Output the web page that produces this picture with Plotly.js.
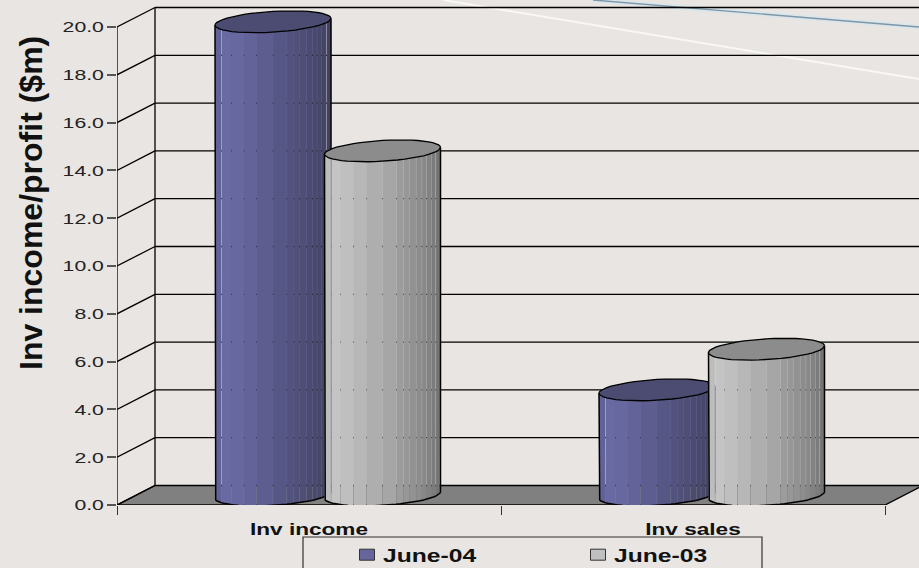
<!DOCTYPE html>
<html>
<head>
<meta charset="utf-8">
<script src="https://cdn.plot.ly/plotly-3.0.1.min.js"></script>
<style>
  html, body { margin: 0; padding: 0; background: #e8e5e2; overflow: hidden; }
  #chart { width: 919px; height: 568px; }
</style>
</head>
<body>
<div id="chart"></div>
<script>
// Chart data
const categories = ['Inv income', 'Inv sales'];
const june04 = [19.8, 4.4];
const june03 = [14.4, 6.1];
const seriesNames = ['June-04', 'June-03'];
const valueTicks = [0, 2, 4, 6, 8, 10, 12, 14, 16, 18, 20];
const yAxisTitle = 'Inv income/profit ($m)';

// Page and plot geometry, in pixels
const PAGE_W = 919, PAGE_H = 568;
const PLOT_L = 117, PLOT_B = 505;
const PX_PER_CATEGORY = 384, PX_PER_UNIT = 23.9;
const px2x = p => p / PX_PER_CATEGORY;
const px2y = p => p / PX_PER_UNIT;
const paperX = p => (p - PLOT_L) / (PAGE_W - PLOT_L);
const paperY = p => (PLOT_B - p) / PLOT_B;

// Depth of the 3-D box behind the front plane
const depthX = px2x(38), depthY = px2y(19.5);
const xMax = px2x(PAGE_W - PLOT_L);
const yMax = px2y(PLOT_B);

// Cylinder proportions, in axis units
const cylA = px2x(58);       // half width
const cylB = px2y(10.4);     // vertical half height of the end ellipses
const cylSkew = px2y(3.4);   // the right side of each ellipse sits higher
const centerShift = [px2x(-36), px2x(73.5)];  // series centre relative to the category centre
const baseLevel = px2y(10);
const SEAM = 0.0016;         // hairline gap between neighbouring facets

// Vertical facets on each cylinder body, from left to right
const facetStops = [0, .057, .14, .25, .36, .5, .62, .68, .73, .79, .84, .88, .92, .96, 1];
const shades = [
  { body: ['#62629a', '#6a6aa3', '#6868a0', '#636399', '#5d5d90', '#575785', '#52527e', '#505079',
           '#4e4e76', '#4b4b72', '#49496e', '#47476a', '#444466', '#414161'],
    cap: '#4c4c72', swatch: '#66669c' },
  { body: ['#bdbdbd', '#c4c4c4', '#bfbfbf', '#b7b7b7', '#aeaeae', '#a6a6a6', '#9c9c9c', '#979797',
           '#929292', '#8d8d8d', '#888888', '#828282', '#7c7c7c', '#747474'],
    cap: '#8c8c8c', swatch: '#c0c0c0' }
];

const BLACK = '#000000';
const polygon = (xs, ys, fill, lineWidth) => ({
  type: 'scatter', mode: 'lines', x: xs, y: ys, fill: 'toself', fillcolor: fill,
  line: { color: lineWidth ? BLACK : fill, width: lineWidth || 0 },
  hoverinfo: 'skip', showlegend: false, cliponaxis: false
});
const polyline = (xs, ys, width) => ({
  type: 'scatter', mode: 'lines', x: xs, y: ys,
  line: { color: BLACK, width: width },
  hoverinfo: 'skip', showlegend: false, cliponaxis: false
});

// Lower arc of an end ellipse between two horizontal fractions of the cylinder width
function lowerArc(cx, level, f0, f1, steps) {
  const xs = [], ys = [];
  for (let i = 0; i <= steps; i++) {
    const c = 2 * (f0 + (f1 - f0) * i / steps) - 1;
    xs.push(cx + cylA * c);
    ys.push(level + cylSkew * c - cylB * Math.sqrt(Math.max(0, 1 - c * c)));
  }
  return { xs, ys };
}

// Full end ellipse, as a closed outline
function ellipse(cx, level) {
  const xs = [], ys = [];
  const steps = 48;
  for (let i = 0; i <= steps; i++) {
    const t = 2 * Math.PI * i / steps;
    xs.push(cx + cylA * Math.cos(t));
    ys.push(level + cylSkew * Math.cos(t) + cylB * Math.sin(t));
  }
  return { xs, ys };
}

// One cylinder: shaded facets, top cap, then the silhouette
function cylinderTraces(cx, value, shade) {
  const top = baseLevel + value;
  const out = [];
  for (let i = 0; i < shade.body.length; i++) {
    const f0 = facetStops[i] + (i ? SEAM : 0);
    const f1 = facetStops[i + 1] - (i < shade.body.length - 1 ? SEAM : 0);
    const upper = lowerArc(cx, top, f0, f1, 6);
    const lower = lowerArc(cx, baseLevel, f0, f1, 6);
    out.push(polygon(upper.xs.concat(lower.xs.slice().reverse()),
                     upper.ys.concat(lower.ys.slice().reverse()), shade.body[i], 0));
  }
  const cap = ellipse(cx, top);
  out.push(polygon(cap.xs, cap.ys, shade.cap, 1.3));
  // Cosine-spaced fractions keep the rounded ends of the base arc smooth
  const bx = [], by = [];
  for (let i = 0; i <= 40; i++) {
    const c = -Math.cos(Math.PI * i / 40);
    bx.push(cx + cylA * c);
    by.push(baseLevel + cylSkew * c - cylB * Math.sqrt(Math.max(0, 1 - c * c)));
  }
  out.push(polyline(
    [cx - cylA].concat(bx, [cx + cylA]),
    [top - cylSkew].concat(by, [top + cylSkew]), 1.5));
  return out;
}

// Floor of the box
const floor = polygon([0, 2, 2 + depthX, depthX, 0], [0, 0, depthY, depthY, 0], '#808080', 1.4);

// Back wall: horizontal rules, side-wall diagonals and the two verticals
const wallX = [], wallY = [];
valueTicks.forEach(v => {
  if (v > 0) { wallX.push(depthX, xMax, null); wallY.push(v + depthY, v + depthY, null); }
  wallX.push(0, depthX, null);
  wallY.push(v, v + depthY, null);
});
wallX.push(depthX, depthX, null, 0, 0);
wallY.push(depthY, 20 + depthY, null, 0, 20);
const wall = polyline(wallX, wallY, 1.3);

// Legend entries come from the plain bars that sit inside the cylinders
const seriesValues = [june04, june03];
const centers = categories.map((c, i) => i + 0.5);
const barTraces = seriesValues.map((vals, s) => ({
  type: 'bar', name: seriesNames[s], x: centers, y: vals,
  base: vals.map(() => baseLevel),
  offset: centers.map(() => centerShift[s] - px2x(50)),
  width: centers.map(() => px2x(100)),
  marker: { color: shades[s].swatch, line: { color: '#333333', width: 1 } },
  hoverinfo: 'y+name'
}));

const cylinders = [];
categories.forEach((c, i) => {
  seriesValues.forEach((vals, s) => {
    cylinders.push(...cylinderTraces(centers[i] + centerShift[s], vals[i], shades[s]));
  });
});

// Faint diagonal streaks crossing the page background
const streak = (x0, y0, x1, y1, color, width) => ({
  type: 'line', xref: 'paper', yref: 'paper', layer: 'below',
  x0: paperX(x0), y0: paperY(y0), x1: paperX(x1), y1: paperY(y1),
  line: { color: color, width: width }
});

const FONT = '"Liberation Sans", Arial, sans-serif';

const layout = {
  width: PAGE_W, height: PAGE_H,
  margin: { l: PLOT_L, r: 0, t: 0, b: PAGE_H - PLOT_B, pad: 0, autoexpand: false },
  paper_bgcolor: '#e8e5e2', plot_bgcolor: 'rgba(0,0,0,0)',
  barmode: 'overlay', showlegend: true, hovermode: 'closest',
  xaxis: {
    type: 'linear', range: [0, xMax], showgrid: false, zeroline: false, showline: false,
    tickmode: 'array', tickvals: centers, ticktext: categories,
    ticks: 'outside', ticklen: 9, tickcolor: 'rgba(0,0,0,0)',
    tickfont: { family: FONT, size: 16.5, color: '#111111', weight: 700 },
    minor: { tickmode: 'array', tickvals: [0, 1, 2], ticks: 'outside', ticklen: 9, tickcolor: '#333333', tickwidth: 1.2, showgrid: false }
  },
  yaxis: {
    range: [0, yMax], showgrid: false, zeroline: false, showline: false,
    tickmode: 'array', tickvals: valueTicks, tickformat: '.1f',
    ticks: 'outside', ticklen: 9, tickcolor: '#555555', tickwidth: 1.5,
    tickfont: { family: FONT, size: 15.5, color: '#222222' }
  },
  legend: {
    orientation: 'h', x: paperX(343), xanchor: 'left', y: paperY(555), yanchor: 'middle',
    entrywidth: 186, entrywidthmode: 'pixels', bgcolor: 'rgba(0,0,0,0)', borderwidth: 0,
    font: { family: FONT, size: 18, color: '#111111', weight: 700 }, itemclick: false, itemdoubleclick: false
  },
  shapes: [
    streak(443, 0, 919, 79, '#faf8f5', 2),
    streak(593, 0, 919, 27, '#dbe5ea', 5),
    streak(593, 0, 919, 27, '#7d97a8', 1.4),
    { type: 'rect', xref: 'paper', yref: 'paper', layer: 'above',
      x0: paperX(303), x1: paperX(762), y0: paperY(537), y1: paperY(575),
      line: { color: '#333333', width: 1.2 }, fillcolor: 'rgba(0,0,0,0)' }
  ],
  annotations: [{
    text: yAxisTitle, xref: 'paper', yref: 'paper', x: paperX(31), y: paperY(203),
    xanchor: 'center', yanchor: 'middle', textangle: -90, showarrow: false,
    font: { family: FONT, size: 32, color: '#111111', weight: 700 }
  }]
};

Plotly.newPlot('chart', [floor, wall].concat(barTraces, cylinders), layout, { displayModeBar: false })
  .then(gd => {
    // Tick and legend lettering is set wide
    const WIDE = 1.37;
    gd.querySelectorAll('.ytick text, .xtick text, .legendtext').forEach(t => {
      const len = t.getComputedTextLength();
      t.setAttribute('textLength', (len * WIDE).toFixed(1));
      t.setAttribute('lengthAdjust', 'spacingAndGlyphs');
    });
    // Legend swatches are wider than tall and sit close to their labels
    gd.querySelectorAll('.legendpoints path').forEach(p => {
      p.setAttribute('d', 'M11.5,5.5H-3.5V-5.5H11.5Z');
    });
  });
</script>
</body>
</html>
